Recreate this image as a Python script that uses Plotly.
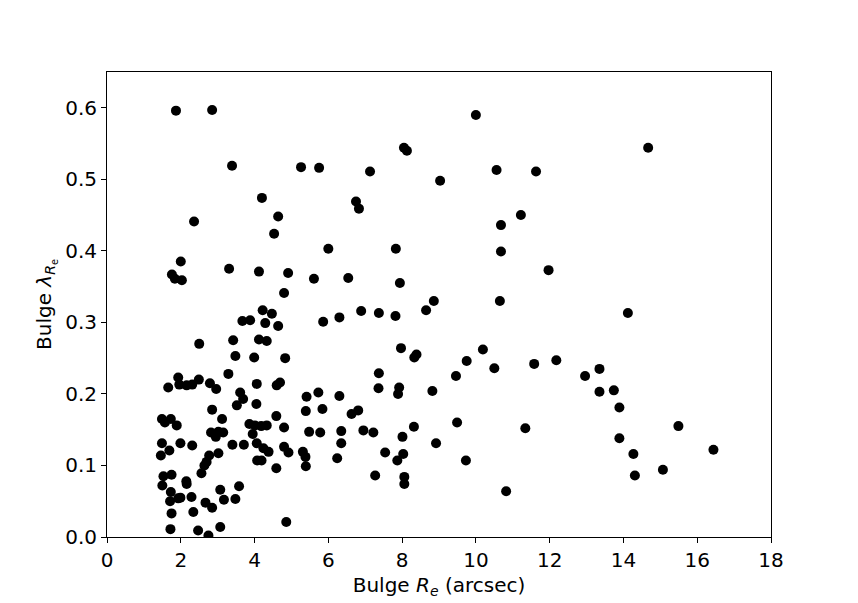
import plotly.graph_objects as go

bulge_re = [
    1.87, 2.85, 3.39, 5.26, 5.75, 7.13, 8.05, 8.13, 9.03, 10.0, 10.56, 11.63, 14.67,
    2.36, 4.20, 4.64, 4.53, 6.75, 6.83, 10.68, 11.22,
    2.00, 1.76, 1.84, 2.03, 3.31, 4.12, 4.91, 5.61, 6.00, 6.54, 7.83, 7.94, 10.68, 11.97,
    10.65, 8.86, 14.12, 4.80,
    4.22, 4.47, 3.67, 3.88, 4.29, 4.64, 2.50, 3.42, 4.12, 4.33, 3.48, 3.99, 4.83,
    3.29, 1.93, 1.66, 1.96, 2.16, 2.31, 2.49, 2.79, 2.96, 3.61, 3.69, 3.52, 4.06, 4.05,
    4.60, 4.69, 5.41, 5.39, 2.85, 3.12, 4.59, 1.49, 1.73, 1.57, 1.89, 2.82, 2.95, 3.15,
    3.02, 3.86, 4.01, 4.18, 4.33, 3.95, 4.80, 5.48, 1.49, 1.69, 1.46, 1.99, 2.31, 3.40,
    3.71, 4.06, 4.24, 4.38, 4.80, 4.92, 5.31, 5.38, 2.77, 3.02, 2.70, 2.64, 2.56, 4.07,
    4.19, 4.59, 5.39, 1.53, 1.75, 2.15, 2.16, 1.50, 1.73, 1.71, 1.93, 1.99, 2.29, 2.67,
    2.85, 3.07, 3.17, 3.48, 3.58, 1.75, 2.34, 1.72, 2.47, 2.75, 3.07, 4.86,
    5.86, 6.30, 6.89, 7.37, 7.82, 8.65, 7.97, 8.33, 8.39, 9.75, 7.37, 7.36, 7.92, 7.89,
    8.82, 9.46, 5.73, 6.30, 5.84, 6.63, 6.81, 5.78, 6.35, 6.95, 7.22, 6.35, 8.01, 8.32,
    8.92, 9.49, 6.24, 7.54, 8.03, 7.87, 7.27, 8.06, 8.06, 9.73,
    10.19, 10.50, 11.58, 12.18, 12.96, 13.35, 13.35, 13.74, 13.89, 13.89, 11.34, 10.82,
    15.49, 14.27, 16.44, 14.31, 15.07,
]
bulge_lambda = [
    0.596, 0.597, 0.519, 0.517, 0.516, 0.511, 0.544, 0.540, 0.498, 0.590, 0.513, 0.511, 0.544,
    0.441, 0.474, 0.448, 0.424, 0.469, 0.459, 0.436, 0.450,
    0.385, 0.367, 0.361, 0.359, 0.375, 0.371, 0.369, 0.361, 0.403, 0.362, 0.403, 0.355, 0.399, 0.373,
    0.330, 0.330, 0.313, 0.341,
    0.317, 0.312, 0.302, 0.303, 0.299, 0.295, 0.270, 0.275, 0.276, 0.274, 0.253, 0.251, 0.250,
    0.228, 0.223, 0.209, 0.213, 0.212, 0.213, 0.220, 0.215, 0.207, 0.202, 0.193, 0.184, 0.214, 0.186,
    0.212, 0.216, 0.196, 0.176, 0.178, 0.165, 0.169, 0.165, 0.165, 0.160, 0.156, 0.146, 0.140, 0.146,
    0.147, 0.158, 0.156, 0.155, 0.156, 0.144, 0.153, 0.147, 0.131, 0.121, 0.114, 0.131, 0.128, 0.129,
    0.129, 0.131, 0.124, 0.119, 0.126, 0.118, 0.119, 0.112, 0.114, 0.117, 0.105, 0.100, 0.089, 0.107,
    0.107, 0.096, 0.099, 0.085, 0.087, 0.078, 0.074, 0.072, 0.063, 0.050, 0.054, 0.055, 0.056, 0.048,
    0.041, 0.066, 0.052, 0.053, 0.071, 0.033, 0.035, 0.011, 0.009, 0.002, 0.014, 0.021,
    0.301, 0.307, 0.316, 0.313, 0.309, 0.317, 0.264, 0.251, 0.255, 0.246, 0.229, 0.208, 0.209, 0.200,
    0.204, 0.225, 0.202, 0.197, 0.179, 0.172, 0.177, 0.146, 0.148, 0.149, 0.146, 0.131, 0.140, 0.154,
    0.131, 0.160, 0.110, 0.118, 0.116, 0.107, 0.086, 0.084, 0.074, 0.107,
    0.262, 0.236, 0.242, 0.247, 0.225, 0.235, 0.203, 0.205, 0.181, 0.138, 0.152, 0.064,
    0.155, 0.116, 0.122, 0.086, 0.094,
]

x_ticks = [0, 2, 4, 6, 8, 10, 12, 14, 16, 18]
y_ticks = [0.0, 0.1, 0.2, 0.3, 0.4, 0.5, 0.6]
y_tick_text = ["0.0", "0.1", "0.2", "0.3", "0.4", "0.5", "0.6"]

fig = go.Figure()
fig.add_trace(go.Scatter(
    x=bulge_re, y=bulge_lambda, mode="markers",
    marker=dict(color="black", size=10, line=dict(width=0)),
    showlegend=False,
))

axis_common = dict(
    showline=True, linecolor="black", linewidth=1, mirror=True,
    ticks="outside", ticklen=5, tickwidth=1, tickcolor="black",
    showgrid=False, zeroline=False,
    tickfont=dict(family="DejaVu Sans", size=20, color="black"),
)

fig.update_layout(
    width=858, height=603,
    margin=dict(l=107, r=87, t=72, b=66),
    plot_bgcolor="white", paper_bgcolor="white",
    xaxis=dict(range=[0, 18], tickvals=x_ticks,
               title=dict(text="Bulge <i>R<sub>e</sub></i> (arcsec)",
                          font=dict(family="DejaVu Sans", size=20, color="black"), standoff=6),
               **axis_common),
    yaxis=dict(range=[0, 0.65], tickvals=y_ticks, ticktext=y_tick_text,
               title=dict(text="Bulge <i>λ</i><sub><i>R</i><sub>e</sub></sub>",
                          font=dict(family="DejaVu Sans", size=20, color="black"), standoff=8),
               **axis_common),
)

fig.write_html("out.html")
